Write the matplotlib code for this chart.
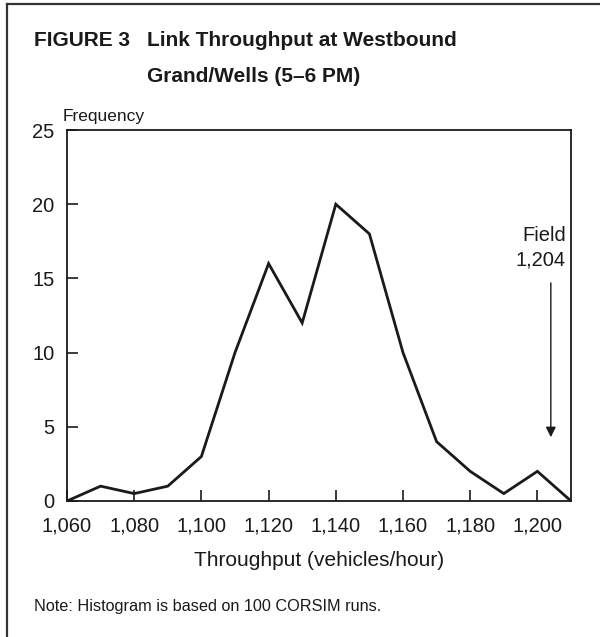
import matplotlib
matplotlib.use("Agg")
import matplotlib.pyplot as plt
from matplotlib.lines import Line2D

# ==== Data ====
throughput = [1060, 1070, 1080, 1090, 1100, 1110, 1120, 1130,
              1140, 1150, 1160, 1170, 1180, 1190, 1200, 1210]
frequency = [0, 1, 0.5, 1, 3, 10, 16, 12, 20, 18, 10, 4, 2, 0.5, 2, 0]

x_ticks = [1060, 1080, 1100, 1120, 1140, 1160, 1180, 1200]
x_tick_labels = ["1,060", "1,080", "1,100", "1,120", "1,140", "1,160", "1,180", "1,200"]
y_ticks = [0, 5, 10, 15, 20, 25]

field_value = 1204
field_label = ["Field", "1,204"]
arrow_top, arrow_tip = 14.7, 4.3   # on the frequency axis

plt.rcParams["font.family"] = ["Liberation Sans", "DejaVu Sans"]

W, H = 600, 637
fig = plt.figure(figsize=(W / 100, H / 100), dpi=100)

def fx(px):
    return px / W

def fy(py):
    return 1 - py / H

INK = "#1a1a1a"

# ==== outer frame: top and left edges only ====
fig.add_artist(Line2D([fx(7), 1.0], [fy(4), fy(4)], color="#333333", lw=1.6))
fig.add_artist(Line2D([fx(7), fx(7)], [fy(4), 0.0], color="#333333", lw=1.6))

# ==== title ====
fig.text(fx(34), fy(41), "FIGURE 3", fontsize=15, fontweight="bold", va="center", ha="left", color=INK)
fig.text(fx(147), fy(41), "Link Throughput at Westbound", fontsize=15,
         fontweight="bold", va="center", ha="left", color=INK)
fig.text(fx(147), fy(76), "Grand/Wells (5\u20136 PM)", fontsize=15,
         fontweight="bold", va="center", ha="left", color=INK)

# ==== axes: left 67, right 571, top 130, bottom 501 (pixels) ====
ax = fig.add_axes([fx(67), fy(501), fx(571 - 67), (501 - 130) / H])
ax.plot(throughput, frequency, color=INK, lw=2.0, solid_joinstyle="miter")

ax.set_xlim(1060, 1210)
ax.set_ylim(0, 25)
ax.set_xticks(x_ticks)
ax.set_xticklabels(x_tick_labels)
ax.set_yticks(y_ticks)
ax.tick_params(direction="in", length=8, width=1.2, labelsize=14.5, colors=INK)
ax.tick_params(axis="x", pad=11)
ax.tick_params(axis="y", pad=9)
for s in ax.spines.values():
    s.set_linewidth(1.3)
    s.set_color(INK)

fig.text(fx(319), fy(561), "Throughput (vehicles/hour)", fontsize=15, ha="center", va="center", color=INK)
fig.text(fx(63), fy(117), "Frequency", fontsize=12.5, ha="left", va="center", color=INK)

# ==== field observation arrow ====
ax.annotate("", xy=(field_value, arrow_tip), xytext=(field_value, arrow_top),
            arrowprops=dict(arrowstyle="-|>", color=INK, lw=1.0,
                            mutation_scale=15, shrinkA=0, shrinkB=0))
ax.text(1208.5, 17.5, field_label[0], fontsize=14.5, ha="right", va="baseline", color=INK)
ax.text(1208.5, 15.9, field_label[1], fontsize=14.5, ha="right", va="baseline", color=INK)

fig.text(fx(34), fy(606), "Note: Histogram is based on 100 CORSIM runs.",
         fontsize=11.7, ha="left", va="center", color=INK)

fig.savefig("out.png", dpi=100, facecolor="white")
